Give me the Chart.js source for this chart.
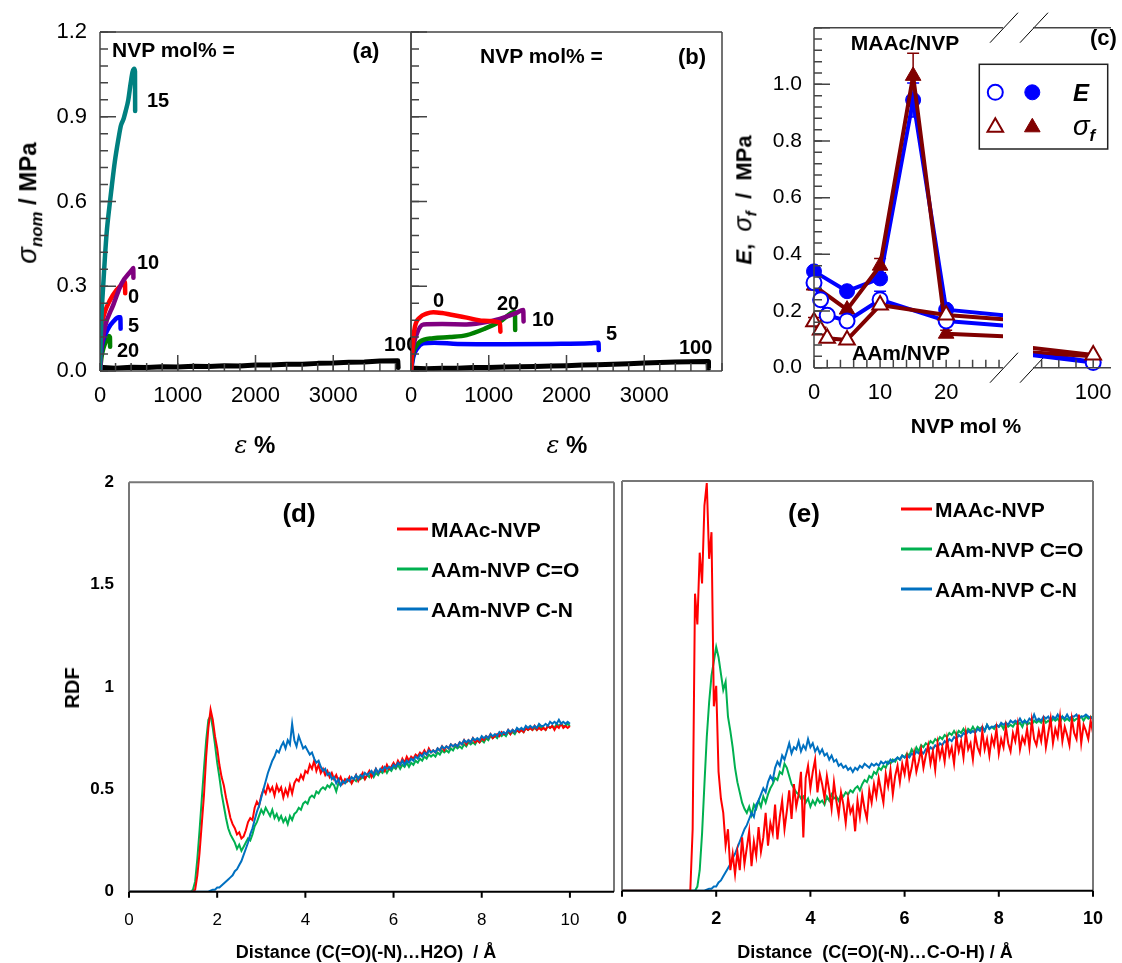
<!DOCTYPE html>
<html>
<head>
<meta charset="utf-8">
<script src="https://cdn.jsdelivr.net/npm/chart.js@4.4.1/dist/chart.umd.min.js"></script>
<style>
  body { margin: 0; background: #fff; }
  #fig { position: relative; width: 1122px; height: 963px; overflow: hidden; background: #fff;
         font-family: 'Liberation Sans', Arial, sans-serif; }
  #fig canvas { position: absolute; left: 0; top: 0; }
  .t { position: absolute; white-space: nowrap; line-height: 1; transform: translateY(-50%);
       font-weight: bold; color: #000; }
  .c { transform: translate(-50%, -50%); }
  .r { transform: translate(-50%, -50%) rotate(-90deg); }
  .sym { font-style: italic; font-weight: normal; font-size: 1.15em; }
  .eps { font-style: italic; font-weight: normal; font-family: 'DejaVu Serif', serif; }
  sub { font-size: 0.7em; vertical-align: -0.35em; line-height: 0; }
</style>
</head>
<body>
<div id="fig">
  <canvas id="chartA" width="1122" height="963"></canvas>
  <canvas id="chartB" width="1122" height="963"></canvas>
  <canvas id="chartC1" width="1122" height="963"></canvas>
  <canvas id="chartC2" width="1122" height="963"></canvas>
  <canvas id="chartD" width="1122" height="963"></canvas>
  <canvas id="chartE" width="1122" height="963"></canvas>

  <!-- (a) -->
  <div class="t" style="left:112px;top:49px;font-size:21px">NVP mol% =</div>
  <div class="t c" style="left:366px;top:51px;font-size:22px">(a)</div>
  <div class="t" style="left:147px;top:100px;font-size:20px">15</div>
  <div class="t" style="left:137px;top:262px;font-size:20px">10</div>
  <div class="t" style="left:128px;top:296px;font-size:20px">0</div>
  <div class="t" style="left:128px;top:325px;font-size:20px">5</div>
  <div class="t" style="left:117px;top:350px;font-size:20px">20</div>
  <div class="t" style="left:384px;top:344px;font-size:20px;width:27px;overflow:hidden">100</div>
  <div class="t r" style="left:27px;top:203px;font-size:24px"><span class="sym">σ</span><sub><i>nom</i></sub> / MPa</div>
  <div class="t c" style="left:255px;top:445px;font-size:24px"><span class="eps">ε</span> %</div>

  <!-- (b) -->
  <div class="t" style="left:480px;top:55px;font-size:21px">NVP mol% =</div>
  <div class="t c" style="left:692px;top:57px;font-size:22px">(b)</div>
  <div class="t" style="left:433px;top:300px;font-size:20px">0</div>
  <div class="t" style="left:497px;top:303px;font-size:20px">20</div>
  <div class="t" style="left:532px;top:319px;font-size:20px">10</div>
  <div class="t" style="left:606px;top:333px;font-size:20px">5</div>
  <div class="t" style="left:679px;top:347px;font-size:20px">100</div>
  <div class="t c" style="left:567px;top:445px;font-size:24px"><span class="eps">ε</span> %</div>

  <!-- (c) -->
  <div class="t c" style="left:905px;top:42px;font-size:21px">MAAc/NVP</div>
  <div class="t" style="left:852px;top:352px;font-size:21px">AAm/NVP</div>
  <div class="t" style="left:1090px;top:38px;font-size:22px">(c)</div>
  <div class="t c" style="left:966px;top:425px;font-size:21px">NVP mol %</div>
  <div class="t r" style="left:743px;top:200px;font-size:22px"><i>E</i>,&nbsp; <span class="sym">σ</span><sub><i>f</i></sub>&nbsp; /&nbsp; MPa</div>
  <div class="t c" style="left:1081px;top:93px;font-size:24px"><i>E</i></div>
  <div class="t c" style="left:1084px;top:126px;font-size:24px"><span class="sym">σ</span><sub><i>f</i></sub></div>

  <!-- (d) -->
  <div class="t c" style="left:299px;top:513px;font-size:26px">(d)</div>
  <div class="t" style="left:431px;top:529px;font-size:21px">MAAc-NVP</div>
  <div class="t" style="left:431px;top:569px;font-size:21px">AAm-NVP C=O</div>
  <div class="t" style="left:431px;top:609px;font-size:21px">AAm-NVP C-N</div>
  <div class="t r" style="left:72px;top:688px;font-size:20px">RDF</div>
  <div class="t c" style="left:366px;top:952px;font-size:18px">Distance (C(=O)(-N)…H2O)&nbsp; / Å</div>

  <!-- (e) -->
  <div class="t c" style="left:804px;top:513px;font-size:26px">(e)</div>
  <div class="t" style="left:935px;top:509px;font-size:21px">MAAc-NVP</div>
  <div class="t" style="left:935px;top:549px;font-size:21px">AAm-NVP C=O</div>
  <div class="t" style="left:935px;top:589px;font-size:21px">AAm-NVP C-N</div>
  <div class="t c" style="left:875px;top:952px;font-size:18px">Distance&nbsp; (C(=O)(-N)…C-O-H) / Å</div>
</div>

<script>
// ---- (a) MAAc/NVP gels, [strain %, nominal stress MPa]
const maac0 = [[0,0],[10,0.1],[30,0.17],[64,0.21],[128,0.25],[214,0.287],[300,0.31],[321,0.315],[324,0.275]];
const maac5 = [[0,0],[15,0.07],[43,0.11],[107,0.151],[171,0.175],[240,0.19],[262,0.19],[265,0.15]];
const maac10 = [[0,0],[15,0.08],[40,0.12],[64,0.157],[171,0.234],[278,0.31],[407,0.357],[428,0.365],[430,0.33]];
const maac15 = [[0,0],[10,0.12],[20,0.2],[43,0.31],[65,0.41],[86,0.49],[120,0.58],[150,0.65],[190,0.74],
                [236,0.82],[270,0.87],[300,0.89],[330,0.92],[364,0.96],[395,1.02],[420,1.06],[440,1.07],[450,1.06],[452,0.92]];
const maac20 = [[0,0],[20,0.05],[43,0.08],[86,0.11],[115,0.124],[128,0.12],[130,0.086]];
const pnvpA = [[0,0],[40,0.012],[200,0.01],[400,0.013],[600,0.012],[800,0.015],[1000,0.014],[1200,0.017],[1400,0.016],
               [1600,0.019],[1800,0.018],[2000,0.021],[2200,0.021],[2400,0.024],[2600,0.024],[2800,0.027],[3000,0.028],
               [3200,0.031],[3400,0.032],[3600,0.035],[3830,0.036],[3835,0.012]];

// ---- (b) AAm/NVP gels
const aam0 = [[0,0],[20,0.09],[51,0.157],[116,0.19],[200,0.203],[287,0.208],[400,0.205],[501,0.2],[716,0.189],
              [930,0.178],[1144,0.171],[1150,0.139]];
const aam5 = [[0,0],[30,0.05],[80,0.08],[159,0.098],[300,0.1],[600,0.096],[1200,0.095],[1800,0.096],[2300,0.098],
              [2412,0.1],[2415,0.074]];
const aam10 = [[0,0],[20,0.07],[60,0.12],[159,0.165],[400,0.166],[716,0.165],[1000,0.175],[1200,0.19],[1350,0.205],
               [1444,0.216],[1448,0.175]];
const aam20 = [[0,0],[25,0.06],[60,0.085],[116,0.104],[287,0.116],[500,0.12],[716,0.127],[950,0.15],[1144,0.175],
               [1337,0.21],[1340,0.145]];
const pnvpB = [[0,0],[40,0.01],[200,0.008],[400,0.01],[600,0.01],[800,0.012],[1000,0.012],[1200,0.014],[1400,0.015],
               [1600,0.016],[1800,0.018],[2000,0.019],[2200,0.021],[2400,0.022],[2600,0.024],[2800,0.026],[3000,0.028],
               [3200,0.03],[3400,0.032],[3600,0.033],[3822,0.034],[3826,0.01]];

// ---- (c) modulus and fracture stress vs NVP content
const maacNvp = [0, 5, 10, 15, 20, 100];
const maacE = [0.34, 0.27, 0.315, 0.945, 0.205, 0.02];
const maacSigma = [0.29, 0.205, 0.36, 1.03, 0.12, 0.04];
const maacEErr = [0, 0, 0, 0.06, 0, 0];
const maacSigmaErr = [0.015, 0, 0.025, 0.08, 0.012, 0];
const aamNvp = [0, 1, 2, 5, 10, 20, 100];
const aamE = [0.30, 0.24, 0.185, 0.165, 0.24, 0.165, 0.018];
const aamSigma = [0.162, 0.133, 0.104, 0.098, 0.221, 0.186, 0.045];
const aamEErr = [0, 0, 0, 0, 0.03, 0.01, 0];
const aamSigmaErr = [0.015, 0.01, 0, 0, 0, 0.012, 0];

// ---- (d), (e) radial distribution functions, sampled from r = 1.40 Å every 0.05 Å
const rdfStart = 1.4, rdfStep = 0.05;
const waterMaac = [
  0,0,0.01,0.08,0.19,0.33,0.47,0.66,0.80,0.89, 0.84,0.76,0.70,0.62,0.56,0.52,0.46,0.41,0.36,0.33,
  0.31,0.28,0.29,0.26,0.27,0.30,0.34,0.36,0.35,0.41, 0.44,0.42,0.47,0.50,0.48,0.52,0.49,0.51,0.47,0.52,
  0.49,0.51,0.46,0.50,0.47,0.52,0.48,0.53,0.55,0.54, 0.57,0.55,0.59,0.58,0.62,0.60,0.64,0.59,0.62,0.58,
  0.60,0.57,0.59,0.56,0.58,0.55,0.57,0.54,0.56,0.53, 0.55,0.54,0.56,0.53,0.55,0.57,0.54,0.56,0.58,0.55,
  0.57,0.59,0.56,0.58,0.60,0.58,0.59,0.61,0.59,0.62, 0.60,0.61,0.63,0.61,0.64,0.62,0.65,0.63,0.66,0.64,
  0.66,0.65,0.67,0.66,0.68,0.67,0.69,0.67,0.70,0.68, 0.69,0.68,0.70,0.69,0.71,0.69,0.71,0.70,0.72,0.71,
  0.72,0.71,0.73,0.72,0.74,0.72,0.74,0.73,0.75,0.73, 0.74,0.73,0.75,0.74,0.76,0.75,0.77,0.75,0.76,0.77,
  0.76,0.78,0.77,0.77,0.79,0.77,0.79,0.78,0.79,0.78, 0.79,0.78,0.80,0.79,0.80,0.79,0.81,0.79,0.80,0.79,
  0.80,0.79,0.81,0.80,0.81,0.79,0.81,0.80,0.82,0.80, 0.81,0.80,0.81];
const waterAamCO = [
  0,0.01,0.05,0.16,0.30,0.45,0.60,0.74,0.84,0.86, 0.80,0.72,0.63,0.56,0.48,0.42,0.36,0.31,0.28,0.26,
  0.24,0.21,0.23,0.20,0.22,0.24,0.26,0.25,0.28,0.32, 0.34,0.37,0.40,0.38,0.41,0.39,0.37,0.40,0.36,0.38,
  0.35,0.37,0.34,0.36,0.33,0.37,0.35,0.38,0.39,0.41, 0.40,0.43,0.44,0.43,0.46,0.47,0.46,0.49,0.48,0.50,
  0.51,0.50,0.52,0.51,0.53,0.52,0.49,0.53,0.52,0.54, 0.53,0.54,0.55,0.53,0.55,0.54,0.56,0.55,0.56,0.55,
  0.57,0.56,0.58,0.56,0.58,0.57,0.59,0.58,0.60,0.58, 0.60,0.59,0.61,0.60,0.62,0.60,0.62,0.61,0.63,0.61,
  0.63,0.62,0.64,0.63,0.65,0.64,0.66,0.65,0.67,0.66, 0.67,0.66,0.68,0.67,0.69,0.68,0.69,0.68,0.70,0.69,
  0.71,0.70,0.71,0.70,0.72,0.71,0.73,0.72,0.73,0.72, 0.74,0.73,0.74,0.73,0.75,0.74,0.76,0.75,0.76,0.75,
  0.77,0.76,0.77,0.76,0.78,0.77,0.78,0.77,0.79,0.78, 0.79,0.78,0.80,0.79,0.80,0.79,0.80,0.79,0.81,0.80,
  0.80,0.79,0.81,0.80,0.81,0.80,0.82,0.81,0.82,0.81, 0.81,0.82,0.81];
const waterAamCN = [
  0,0,0,0,0,0,0,0,0,0.005, 0.01,0.01,0.02,0.02,0.03,0.04,0.05,0.06,0.07,0.08,
  0.10,0.11,0.13,0.15,0.18,0.21,0.24,0.28,0.31,0.35, 0.39,0.42,0.46,0.50,0.54,0.58,0.61,0.64,0.66,0.69,
  0.68,0.71,0.73,0.70,0.74,0.72,0.82,0.74,0.71,0.76, 0.73,0.70,0.71,0.69,0.67,0.68,0.65,0.63,0.64,0.61,
  0.59,0.60,0.57,0.58,0.55,0.56,0.53,0.55,0.52,0.54, 0.53,0.55,0.54,0.56,0.55,0.57,0.55,0.57,0.56,0.58,
  0.57,0.58,0.59,0.57,0.60,0.58,0.60,0.59,0.61,0.60, 0.61,0.60,0.62,0.61,0.63,0.62,0.64,0.62,0.64,0.63,
  0.65,0.64,0.66,0.65,0.67,0.66,0.68,0.67,0.69,0.68, 0.69,0.68,0.70,0.69,0.71,0.70,0.71,0.70,0.72,0.71,
  0.72,0.71,0.73,0.72,0.74,0.73,0.74,0.73,0.75,0.74, 0.75,0.74,0.76,0.75,0.76,0.75,0.77,0.76,0.77,0.76,
  0.78,0.77,0.78,0.77,0.79,0.78,0.79,0.78,0.80,0.79, 0.80,0.79,0.81,0.80,0.81,0.80,0.81,0.80,0.82,0.81,
  0.81,0.82,0.81,0.83,0.82,0.83,0.82,0.84,0.82,0.83, 0.82,0.83,0.82];
const cohMaac = [
  0,0,0.30,1.45,1.30,1.65,1.50,1.88,1.99,1.62, 1.75,0.90,1.00,0.58,0.45,0.38,0.22,0.30,0.10,0.18,
  0.08,0.19,0.10,0.26,0.13,0.21,0.29,0.12,0.24,0.17, 0.31,0.19,0.26,0.38,0.22,0.33,0.28,0.42,0.25,0.36,
  0.44,0.30,0.39,0.49,0.35,0.52,0.41,0.47,0.58,0.26, 0.55,0.61,0.50,0.58,0.64,0.48,0.57,0.52,0.45,0.56,
  0.49,0.40,0.53,0.44,0.37,0.48,0.42,0.33,0.45,0.38, 0.41,0.29,0.44,0.36,0.47,0.40,0.35,0.49,0.43,0.52,
  0.46,0.55,0.49,0.43,0.57,0.51,0.59,0.47,0.56,0.61, 0.53,0.62,0.57,0.65,0.55,0.60,0.67,0.58,0.63,0.69,
  0.60,0.66,0.71,0.62,0.68,0.59,0.72,0.65,0.70,0.63, 0.74,0.66,0.70,0.62,0.75,0.68,0.73,0.65,0.77,0.69,
  0.72,0.64,0.76,0.70,0.67,0.78,0.69,0.74,0.66,0.75, 0.71,0.79,0.67,0.74,0.70,0.80,0.72,0.68,0.77,0.73,
  0.81,0.69,0.75,0.72,0.79,0.70,0.83,0.74,0.71,0.78, 0.73,0.82,0.70,0.77,0.84,0.72,0.79,0.75,0.85,0.73,
  0.80,0.76,0.71,0.84,0.77,0.74,0.86,0.72,0.81,0.78, 0.74,0.83,0.77];
const cohAamCO = [
  0,0,0,0,0.02,0.10,0.28,0.52,0.75,0.92, 1.05,1.12,1.19,1.14,1.06,0.98,1.02,0.85,0.78,0.70,
  0.60,0.53,0.48,0.43,0.40,0.38,0.41,0.37,0.42,0.40, 0.44,0.41,0.46,0.43,0.47,0.50,0.52,0.55,0.54,0.58,
  0.57,0.62,0.60,0.56,0.52,0.50,0.48,0.47,0.45,0.46, 0.43,0.45,0.41,0.44,0.42,0.45,0.43,0.44,0.42,0.46,
  0.44,0.47,0.45,0.46,0.44,0.47,0.46,0.48,0.47,0.49, 0.48,0.50,0.51,0.49,0.52,0.54,0.53,0.56,0.55,0.58,
  0.57,0.60,0.59,0.61,0.60,0.63,0.62,0.64,0.63,0.65, 0.64,0.66,0.65,0.67,0.66,0.69,0.67,0.70,0.68,0.71,
  0.70,0.72,0.71,0.73,0.72,0.74,0.73,0.75,0.74,0.76, 0.75,0.77,0.76,0.78,0.76,0.78,0.77,0.79,0.77,0.79,
  0.78,0.80,0.78,0.80,0.79,0.80,0.78,0.81,0.79,0.80, 0.79,0.81,0.80,0.81,0.79,0.82,0.80,0.81,0.80,0.82,
  0.81,0.82,0.80,0.83,0.81,0.82,0.81,0.83,0.82,0.83, 0.82,0.84,0.82,0.83,0.82,0.84,0.83,0.84,0.82,0.85,
  0.83,0.84,0.83,0.85,0.83,0.84,0.84,0.85,0.83,0.85, 0.84,0.85,0.84];
const cohAamCN = [
  0,0,0,0,0,0,0,0,0.005,0.01, 0.01,0.02,0.02,0.04,0.05,0.07,0.09,0.11,0.13,0.16,
  0.18,0.21,0.24,0.27,0.30,0.32,0.35,0.38,0.36,0.42, 0.44,0.47,0.50,0.48,0.53,0.56,0.54,0.60,0.63,0.61,
  0.66,0.64,0.68,0.72,0.67,0.70,0.69,0.73,0.68,0.71, 0.69,0.74,0.70,0.72,0.68,0.70,0.67,0.69,0.66,0.67,
  0.64,0.66,0.63,0.64,0.61,0.62,0.60,0.61,0.59,0.60, 0.58,0.60,0.59,0.61,0.60,0.62,0.61,0.60,0.62,0.61,
  0.62,0.61,0.63,0.62,0.63,0.62,0.64,0.63,0.64,0.65, 0.64,0.66,0.65,0.66,0.65,0.67,0.66,0.68,0.67,0.68,
  0.67,0.69,0.68,0.70,0.69,0.71,0.70,0.72,0.71,0.73, 0.72,0.74,0.73,0.75,0.74,0.76,0.75,0.77,0.76,0.78,
  0.77,0.78,0.77,0.79,0.78,0.80,0.78,0.81,0.79,0.80, 0.80,0.81,0.80,0.82,0.81,0.82,0.81,0.83,0.82,0.83,
  0.82,0.84,0.82,0.83,0.82,0.84,0.83,0.86,0.83,0.84, 0.83,0.85,0.84,0.85,0.83,0.85,0.84,0.86,0.84,0.85,
  0.84,0.86,0.84,0.85,0.85,0.86,0.84,0.85,0.85,0.86, 0.85,0.84,0.85];

const FONT = "'Liberation Sans', Arial, sans-serif";
const AXIS = '#444';
const BLUE = '#0000FF', MAROON = '#800000';
const RED = '#FF0000', GREEN = '#00B050', SKY = '#0070C0';

function steps(from, to, step) {
  const out = [];
  for (let v = from; v <= to + 1e-9; v += step) out.push(+v.toFixed(6));
  return out;
}

function rdfPoints(vals) {
  return [{ x: 0, y: 0 }].concat(vals.map((v, i) => ({ x: rdfStart + i * rdfStep, y: v })));
}

// linear axis whose box size is pinned so the plot area lands where we want it
function axis(o) {
  return {
    type: 'linear',
    display: o.display !== false,
    min: o.min, max: o.max,
    grid: { display: false, drawTicks: false },
    border: { display: false },
    ticks: {
      autoSkip: false, maxRotation: 0, padding: o.padding || 0, color: '#000',
      font: { family: FONT, size: o.size || 22, weight: o.bold ? 'bold' : 'normal' },
      callback: o.fmt || (v => String(v))
    },
    afterBuildTicks: s => { if (o.labels) s.ticks = o.labels.map(v => ({ value: v })); },
    afterFit: s => {
      if (o.box != null) { if (s.isHorizontal()) s.height = o.box; else s.width = o.box; }
      s.paddingLeft = s.paddingRight = s.paddingTop = s.paddingBottom = 0;
    }
  };
}

// plot frame and inward/outward tick marks
const framePlugin = {
  id: 'frame',
  afterDraw(chart, args, o) {
    const { ctx, chartArea: a } = chart;
    ctx.save();
    (o.edges || []).forEach(e => {
      if (typeof e === 'string') e = { side: e };
      const p = {
        top: [a.left, a.top, a.right, a.top], bottom: [a.left, a.bottom, a.right, a.bottom],
        left: [a.left, a.top, a.left, a.bottom], right: [a.right, a.top, a.right, a.bottom]
      }[e.side];
      ctx.strokeStyle = e.color || o.color;
      ctx.lineWidth = e.width || o.width;
      ctx.beginPath(); ctx.moveTo(p[0], p[1]); ctx.lineTo(p[2], p[3]); ctx.stroke();
    });
    (o.ticks || []).forEach(t => {
      const vertical = t.side === 'left' || t.side === 'right';
      const scale = chart.scales[vertical ? 'y' : 'x'];
      ctx.strokeStyle = t.color || o.color;
      ctx.lineWidth = o.width;
      ctx.beginPath();
      t.values.forEach(v => {
        const p = scale.getPixelForValue(v);
        if (t.side === 'bottom') { ctx.moveTo(p, a.bottom); ctx.lineTo(p, a.bottom - t.len); }
        if (t.side === 'top') { ctx.moveTo(p, a.top); ctx.lineTo(p, a.top + t.len); }
        if (t.side === 'left') { ctx.moveTo(a.left, p); ctx.lineTo(a.left + t.len, p); }
        if (t.side === 'right') { ctx.moveTo(a.right, p); ctx.lineTo(a.right - t.len, p); }
      });
      ctx.stroke();
    });
    ctx.restore();
  }
};

// vertical error bars with caps, taken from dataset.errorBars
const errorBarPlugin = {
  id: 'errorBars',
  beforeDatasetsDraw(chart) {
    const { ctx, scales: { x, y } } = chart;
    ctx.save();
    chart.data.datasets.forEach(ds => {
      if (!ds.errorBars) return;
      ctx.strokeStyle = ds.borderColor;
      ctx.lineWidth = 1.5;
      ds.data.forEach((p, i) => {
        const e = ds.errorBars[i];
        if (!e || p.x < x.min || p.x > x.max) return;
        const px = x.getPixelForValue(p.x);
        const y1 = y.getPixelForValue(p.y - e), y2 = y.getPixelForValue(p.y + e);
        ctx.beginPath();
        ctx.moveTo(px, y1); ctx.lineTo(px, y2);
        ctx.moveTo(px - 6, y1); ctx.lineTo(px + 6, y1);
        ctx.moveTo(px - 6, y2); ctx.lineTo(px + 6, y2);
        ctx.stroke();
      });
    });
    ctx.restore();
  }
};

function drawMarker(ctx, style, x, y, r, color, filled) {
  ctx.beginPath();
  if (style === 'circle') {
    ctx.arc(x, y, r, 0, Math.PI * 2);
  } else {
    for (let k = 0; k < 3; k++) {
      const ang = k * 2 * Math.PI / 3;
      ctx[k ? 'lineTo' : 'moveTo'](x + Math.sin(ang) * r, y - Math.cos(ang) * r);
    }
    ctx.closePath();
  }
  ctx.fillStyle = filled ? color : '#fff';
  ctx.fill();
  ctx.lineWidth = filled ? 1 : 2;
  ctx.strokeStyle = color;
  ctx.stroke();
}

// (c): axis break marks and the marker key
const breakKeyPlugin = {
  id: 'breakKey',
  afterDraw(chart, args, o) {
    const { ctx, chartArea: a } = chart;
    ctx.save();
    ctx.strokeStyle = '#000';
    ctx.lineWidth = 1;
    [a.top, a.bottom].forEach(yy => {
      [a.right + 1, a.right + 31].forEach(xx => {
        ctx.beginPath(); ctx.moveTo(xx - 14, yy + 15); ctx.lineTo(xx + 14, yy - 15); ctx.stroke();
      });
    });
    const k = o.key;
    ctx.strokeStyle = '#222';
    ctx.lineWidth = 1.5;
    ctx.strokeRect(k.left, k.top, k.width, k.height);
    drawMarker(ctx, 'circle', k.left + 16, k.top + 28, 7.5, BLUE, false);
    drawMarker(ctx, 'circle', k.left + 53, k.top + 28, 7.5, BLUE, true);
    drawMarker(ctx, 'triangle', k.left + 16, k.top + 63, 9, MAROON, false);
    drawMarker(ctx, 'triangle', k.left + 53, k.top + 63, 9, MAROON, true);
    ctx.restore();
  }
};

// (d), (e): short line samples next to the series names
const lineKeyPlugin = {
  id: 'lineKey',
  afterDraw(chart, args, o) {
    const { ctx } = chart;
    ctx.save();
    ctx.lineWidth = 3;
    chart.data.datasets.forEach((ds, i) => {
      ctx.strokeStyle = ds.borderColor;
      ctx.beginPath(); ctx.moveTo(o.x1, o.ys[i]); ctx.lineTo(o.x2, o.ys[i]); ctx.stroke();
    });
    ctx.restore();
  }
};

function makeChart(id, datasets, scales, padding, pluginOpts, plugins) {
  return new Chart(document.getElementById(id), {
    type: 'line',
    data: { datasets },
    options: {
      responsive: false, animation: false, events: [],
      layout: { padding },
      scales,
      plugins: Object.assign({ legend: { display: false }, tooltip: { enabled: false } }, pluginOpts)
    },
    plugins: [framePlugin].concat(plugins || [])
  });
}

const curve = (pts, color, width, smooth) => ({
  data: pts.map(([x, y]) => ({ x, y })),
  borderColor: color, borderWidth: width || 4.5, pointRadius: 0, fill: false,
  cubicInterpolationMode: smooth === false ? 'default' : 'monotone', tension: 0,
  borderJoinStyle: 'round', borderCapStyle: 'round'
});

// ---------- (a) and (b)
const stressTicks = () => ([
  { side: 'left', values: steps(0, 1.2, 0.06), len: 8 },
  { side: 'left', values: steps(0, 1.2, 0.3), len: 16 },
  { side: 'bottom', values: steps(0, 4000, 200), len: 8 },
  { side: 'bottom', values: [1000, 2000, 3000], len: 16 }
]);

makeChart('chartA', [
  curve(maac15, '#008080'),
  curve(maac10, '#800080'),
  curve(maac0, RED),
  curve(maac5, BLUE),
  curve(maac20, '#008000'),
  curve(pnvpA, '#000', 5, false)
], {
  x: axis({ min: 0, max: 4000, labels: [0, 1000, 2000, 3000], padding: 12, box: 592 }),
  y: axis({ min: 0, max: 1.2, labels: steps(0, 1.2, 0.3), fmt: v => v.toFixed(1), padding: 13, box: 100 })
}, { left: 0, top: 32, right: 711, bottom: 0 },
{ frame: { color: AXIS, width: 1.5, edges: ['top', 'right', 'bottom', 'left'], ticks: stressTicks() } });

makeChart('chartB', [
  curve(aam0, RED),
  curve(aam10, '#800080'),
  curve(aam20, '#008000'),
  curve(aam5, BLUE),
  curve(pnvpB, '#000', 5, false)
], {
  x: axis({ min: 0, max: 4000, labels: [0, 1000, 2000, 3000], padding: 12, box: 592 }),
  y: axis({ min: 0, max: 1.2, display: false })
}, { left: 411, top: 32, right: 400, bottom: 0 },
{ frame: { color: AXIS, width: 1.5, edges: ['top', 'right', 'bottom', 'left'], ticks: stressTicks() } });

// ---------- (c) split in two charts around the axis break
function propertySets(clip) {
  const pts = (xs, ys) => xs.map((x, i) => ({ x, y: ys[i] }));
  const base = { borderWidth: 4, tension: 0, fill: false, clip, borderJoinStyle: 'round' };
  return [
    Object.assign({ data: pts(aamNvp, aamSigma), errorBars: aamSigmaErr, borderColor: MAROON, pointStyle: 'triangle',
      pointRadius: 9, pointBackgroundColor: '#fff', pointBorderColor: MAROON, pointBorderWidth: 2 }, base),
    Object.assign({ data: pts(aamNvp, aamE), errorBars: aamEErr, borderColor: BLUE, pointStyle: 'circle',
      pointRadius: 7.5, pointBackgroundColor: '#fff', pointBorderColor: BLUE, pointBorderWidth: 2 }, base),
    Object.assign({ data: pts(maacNvp, maacSigma), errorBars: maacSigmaErr, borderColor: MAROON, pointStyle: 'triangle',
      pointRadius: 9, pointBackgroundColor: MAROON, pointBorderColor: MAROON, pointBorderWidth: 1 }, base),
    Object.assign({ data: pts(maacNvp, maacE), errorBars: maacEErr, borderColor: BLUE, pointStyle: 'circle',
      pointRadius: 7.5, pointBackgroundColor: BLUE, pointBorderColor: BLUE, pointBorderWidth: 1 }, base)
  ];
}

makeChart('chartC1', propertySets({ left: 14, top: 14, bottom: 14, right: 0 }), {
  x: axis({ min: 0, max: 28.6, labels: [0, 10, 20], padding: 12, box: 595.3 }),
  y: axis({ min: 0, max: 1.2, labels: steps(0, 1.0, 0.2), fmt: v => v.toFixed(1), size: 21, padding: 12, box: 814 })
}, { left: 0, top: 27.7, right: 119, bottom: 0 },
{
  frame: { color: AXIS, width: 1.5, edges: ['top', 'bottom', 'left'], ticks: [
    { side: 'left', values: steps(0, 1.2, 0.04), len: 8 },
    { side: 'left', values: steps(0, 1.2, 0.2), len: 16 },
    { side: 'bottom', values: steps(0, 28, 2), len: 8 }
  ] },
  breakKey: { key: { left: 979.3, top: 64.3, width: 128.4, height: 84.7 } }
}, [errorBarPlugin, breakKeyPlugin]);

makeChart('chartC2', propertySets({ left: 0, top: 14, bottom: 14, right: 14 }), {
  x: axis({ min: 86, max: 104.14, labels: [100], padding: 12, box: 595.3 }),
  y: axis({ min: 0, max: 1.2, display: false })
}, { left: 1033, top: 27.7, right: 0, bottom: 0 },
{ frame: { color: AXIS, width: 1.5, edges: ['top', 'bottom'], ticks: [
  { side: 'bottom', values: [88, 92, 96, 100], len: 8 }
] } }, [errorBarPlugin]);

// ---------- (d) and (e)
const rdfLine = (vals, color, order) => ({
  data: rdfPoints(vals), borderColor: color, borderWidth: 2, pointRadius: 0, tension: 0, fill: false, order
});
const rdfFrame = {
  color: '#777', width: 2,
  edges: ['top', 'left', 'right', { side: 'bottom', color: '#000' }],
  ticks: [{ side: 'bottom', values: steps(0, 10, 2), len: -6, color: '#000' }]
};

makeChart('chartD', [
  rdfLine(waterMaac, RED, 1),
  rdfLine(waterAamCO, GREEN, 2),
  rdfLine(waterAamCN, SKY, 0)
], {
  x: axis({ min: 0, max: 11, labels: steps(0, 10, 2), size: 17, padding: 18, box: 71.3 }),
  y: axis({ min: 0, max: 2, labels: [0, 0.5, 1, 1.5, 2], size: 17, bold: true, padding: 15, box: 129 })
}, { left: 0, top: 482.3, right: 508, bottom: 0 },
{ frame: rdfFrame, lineKey: { x1: 397, x2: 428, ys: [529, 569, 609] } }, [lineKeyPlugin]);

makeChart('chartE', [
  rdfLine(cohMaac, RED, 0),
  rdfLine(cohAamCO, GREEN, 2),
  rdfLine(cohAamCN, SKY, 1)
], {
  x: axis({ min: 0, max: 10, labels: steps(0, 10, 2), size: 18, bold: true, padding: 18, box: 72.3 }),
  y: axis({ min: 0, max: 2, display: false })
}, { left: 622, top: 481, right: 29, bottom: 0 },
{ frame: rdfFrame, lineKey: { x1: 901, x2: 932, ys: [509, 549, 589] } }, [lineKeyPlugin]);
</script>
</body>
</html>
